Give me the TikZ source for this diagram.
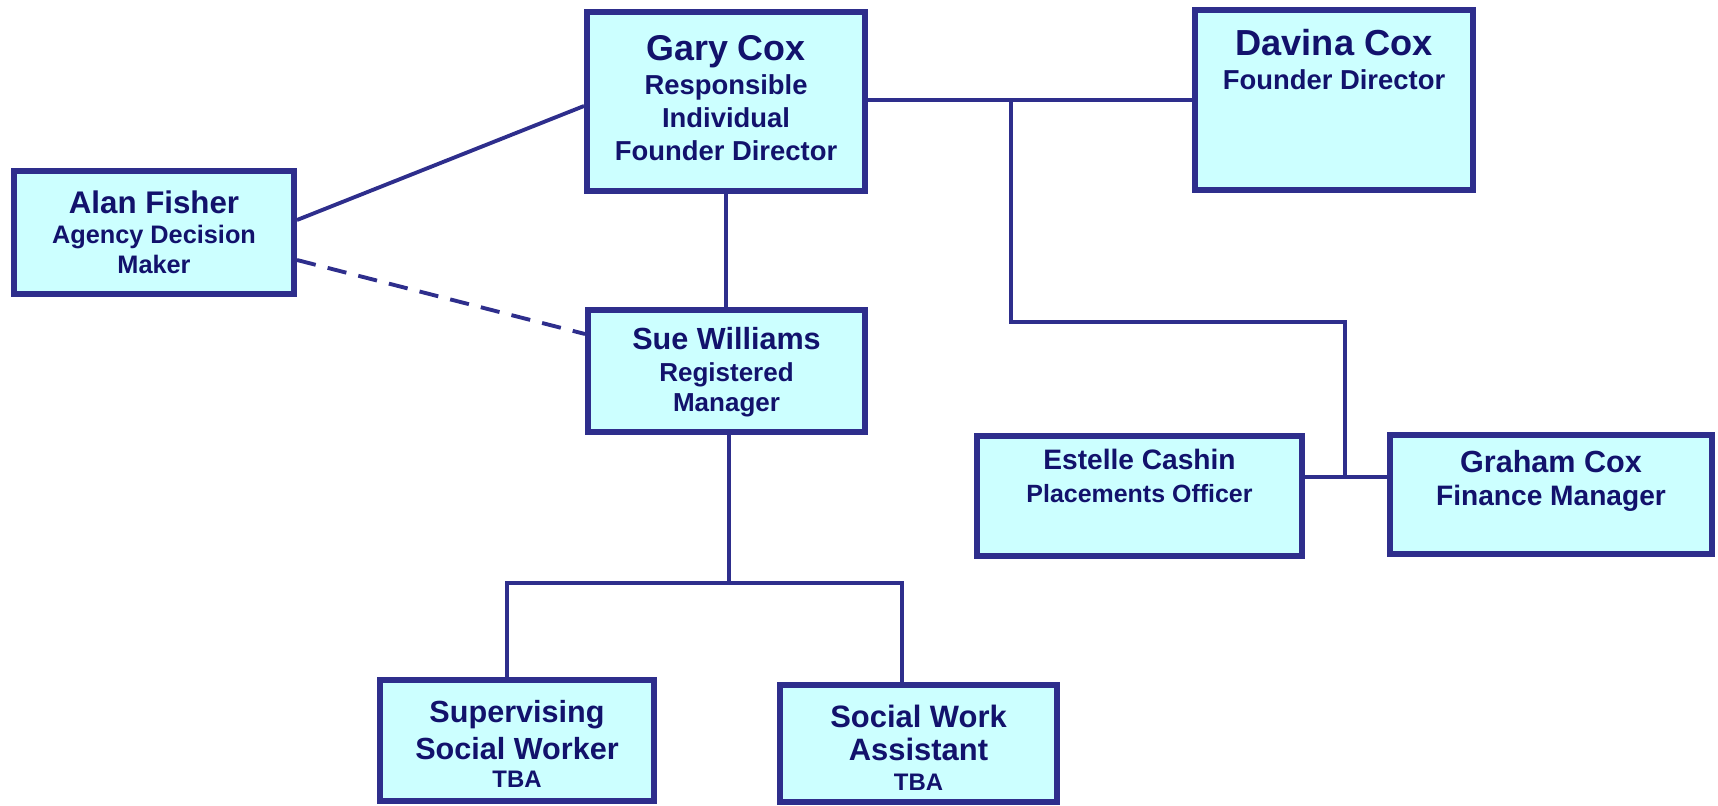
\documentclass[tikz,border=0pt]{standalone}
\usepackage{fontspec}
\setmainfont{Liberation Sans}
\usetikzlibrary{positioning}
\definecolor{boxfill}{RGB}{204,255,255}
\definecolor{linecol}{RGB}{46,46,140}
\definecolor{textcol}{RGB}{18,18,108}

\begin{document}
\begin{tikzpicture}[
    box/.style={rectangle,draw=linecol,line width=1.7pt,fill=boxfill,inner sep=0pt},
    txt/.style={inner sep=0pt,align=center,text=textcol,font=\bfseries\fontsize{7.8}{8.7}\selectfont},
    conn/.style={draw=linecol,line width=1.1pt}
    ]

            %\draw [help lines] (0,0) grid (17,-8);
            \useasboundingbox (0,0) rectangle (17.18,-8.05);

            \path   (7.26,-1.015) node (gary) [box,minimum width=2.78cm,minimum height=1.79cm] {}
                    (13.34,-1.00) node (davina) [box,minimum width=2.78cm,minimum height=1.80cm] {}
                    (1.54,-2.325) node (alan) [box,minimum width=2.80cm,minimum height=1.23cm] {}
                    (7.265,-3.71) node (sue) [box,minimum width=2.77cm,minimum height=1.22cm] {}
                    (11.395,-4.96) node (estelle) [box,minimum width=3.25cm,minimum height=1.20cm] {}
                    (15.51,-4.945) node (graham) [box,minimum width=3.22cm,minimum height=1.19cm] {}
                    (5.17,-7.405) node (sup) [box,minimum width=2.74cm,minimum height=1.21cm] {}
                    (9.185,-7.435) node (swa) [box,minimum width=2.77cm,minimum height=1.17cm] {};

            \node (garyt) [txt,font=\bfseries\fontsize{7.8}{9.5}\selectfont,below=0.26cm of gary.north] {{\fontsize{10.2}{9.5}\selectfont Gary Cox}\\Responsible\\Individual\\Founder Director};
            \node (davinat) [txt,below=0.215cm of davina.north] {{\fontsize{10.3}{8.7}\selectfont Davina Cox}\\[1pt]Founder Director};
            \node (alant) [txt,font=\bfseries\fontsize{7.2}{8.5}\selectfont,below=0.22cm of alan.north] {{\fontsize{8.9}{8.5}\selectfont Alan Fisher}\\Agency Decision\\Maker};
            \node (suet) [txt,font=\bfseries\fontsize{7.4}{8.3}\selectfont,below=0.20cm of sue.north] {{\fontsize{8.7}{8.3}\selectfont Sue Williams}\\[0.8pt]Registered\\Manager};
            \node (estellet) [txt,font=\bfseries\fontsize{7.1}{9.4}\selectfont,below=0.155cm of estelle.north] {{\fontsize{8}{9.4}\selectfont Estelle Cashin}\\Placements Officer};
            \node (grahamt) [txt,font=\bfseries\fontsize{8}{9.4}\selectfont,below=0.18cm of graham.north] {{\fontsize{8.7}{9.4}\selectfont Graham Cox}\\Finance Manager};
            \node (supt) [txt,font=\bfseries\fontsize{8.7}{8.1}\selectfont,below=0.23cm of sup.north] {Supervising\\[1.2pt]Social Worker\\{\fontsize{6.8}{8.1}\selectfont TBA}};
            \node (swat) [txt,font=\bfseries\fontsize{8.8}{8.5}\selectfont,below=0.22cm of swa.north] {Social Work\\[0.9pt]Assistant\\{\fontsize{6.8}{8.5}\selectfont TBA}};

            \coordinate (tee) at (10.11,-1.00);
            \coordinate (bend) at (13.45,-3.22);
            \coordinate (fork) at (13.45,-4.77);
            \coordinate (split) at (7.29,-5.83);
            \coordinate (left) at (5.07,-5.83);
            \coordinate (right) at (9.02,-5.83);

            \draw[conn] (gary.east |- tee) -- (davina.west |- tee);
            \draw[conn] (tee) |- (bend) -- (fork);
            \draw[conn] (estelle.east |- fork) -- (graham.west |- fork);
            \draw[conn] (gary.south) -- (sue.north -| gary.south);
            \draw[conn] (split |- sue.south) -- (split);
            \draw[conn] (left |- sup.north) -- (left) -- (right) -- (right |- swa.north);
            \draw[conn] ([yshift=0.125cm]alan.east) -- ([yshift=-0.045cm]gary.west);
            \draw[conn,dash pattern=on 5.5pt off 3.5pt] ([yshift=-0.275cm]alan.east) -- ([yshift=0.37cm]sue.west);
        \end{tikzpicture}
\end{document}
